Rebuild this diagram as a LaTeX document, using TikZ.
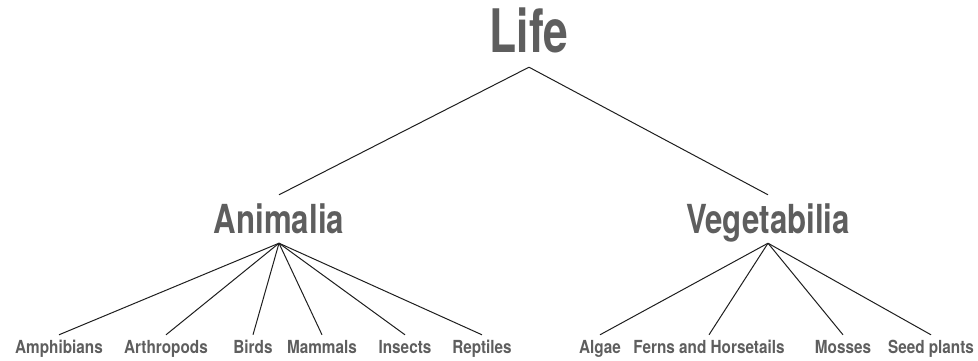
\documentclass[tikz,border=0pt]{standalone}
\usepackage{fontspec}
\usepackage{xcolor}
\definecolor{labelgray}{HTML}{5e5e5e}
\definecolor{linedark}{HTML}{1e1e1e}
\newfontfamily\rootfont[FakeStretch=0.74]{TeX Gyre Heros}
\newfontfamily\kingfont[FakeStretch=0.78]{TeX Gyre Heros}
\newfontfamily\leaffont[FakeStretch=0.85]{TeX Gyre Heros}
\usetikzlibrary{positioning}

\begin{document}
\begin{tikzpicture}[
  x=1pt, y=-1pt,
  root/.style={anchor=base, text=labelgray, inner xsep=0pt, inner ysep=14pt, text height=43pt, text depth=0pt, font=\rootfont\bfseries\fontsize{60}{60}\selectfont},
  kingdom/.style={anchor=base, text=labelgray, inner xsep=0pt, inner ysep=10pt, text height=28pt, text depth=0pt, font=\kingfont\bfseries\fontsize{40}{40}\selectfont},
  leaf/.style={anchor=base, text=labelgray, inner xsep=0pt, inner ysep=6pt, text height=12pt, text depth=4pt, font=\leaffont\bfseries\fontsize{18}{18}\selectfont},
  edge/.style={draw=linedark, line width=1pt},
]
\useasboundingbox (0,0) rectangle (978,361);

% Wurzel und Reiche
\node[root] (life) at (529,53) {Life};
\node[kingdom] (animalia) at (279,233) {Animalia};
\node[kingdom] (vegetabilia) at (768,233) {Vegetabilia};

% Tiere
\node[leaf] (amphibians) at (59,353) {Amphibians};
\node[leaf] (arthropods) at (166,353) {Arthropods};
\node[leaf] (birds) at (253,353) {Birds};
\node[leaf] (mammals) at (322,353) {Mammals};
\node[leaf] (insects) at (405,353) {Insects};
\node[leaf] (reptiles) at (482,353) {Reptiles};

% Pflanzen
\node[leaf] (algae) at (600,353) {Algae};
\node[leaf] (ferns) at (709,353) {Ferns and Horsetails};
\node[leaf] (mosses) at (843,353) {Mosses};
\node[leaf] (seeds) at (931,353) {Seed plants};

% Kanten
\draw[edge] (life.south) -- (animalia.north);
\draw[edge] (life.south) -- (vegetabilia.north);
\foreach \t in {amphibians,arthropods,birds,mammals,insects,reptiles}
  \draw[edge] (animalia.south) -- (\t.north);
\foreach \t in {algae,ferns,mosses,seeds}
  \draw[edge] (vegetabilia.south) -- (\t.north);

\end{tikzpicture}
\end{document}
